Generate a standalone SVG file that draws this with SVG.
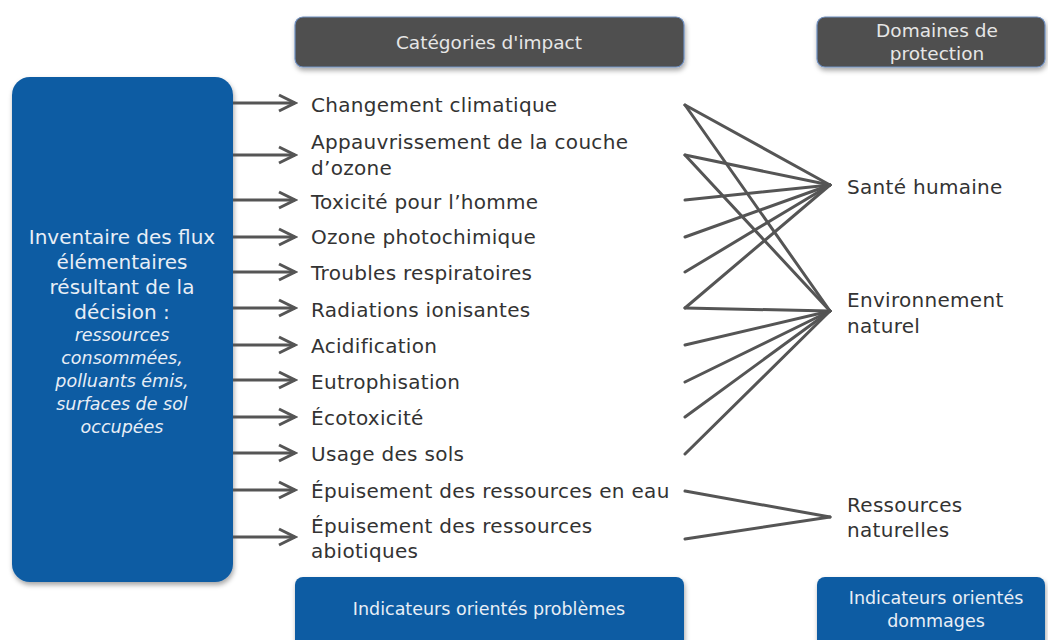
<svg xmlns="http://www.w3.org/2000/svg" width="1048" height="640" viewBox="0 0 1048 640">
<style>
.hdr{fill:#4f4f4f;stroke:#6f8fc0;stroke-width:1.2}
.blue{fill:#0d5ba3}
.ht{font-family:"DejaVu Sans",sans-serif;font-size:18.5px;fill:#e6e6e6;text-anchor:middle}
.bt{font-family:"DejaVu Sans",sans-serif;font-size:17.5px;fill:#e8eef6;text-anchor:middle}
.lt{font-family:"DejaVu Sans",sans-serif;font-size:20px;fill:#e8eef6;text-anchor:middle}
.li{font-family:"DejaVu Sans",sans-serif;font-size:17.5px;font-style:italic;fill:#e8eef6;text-anchor:middle}
.ct{font-family:"DejaVu Sans",sans-serif;font-size:20px;letter-spacing:0.3px;fill:#333}
.arr{stroke:#555;stroke-width:3;fill:none}
.ln{stroke:#555;stroke-width:3;fill:none;stroke-linecap:round}
</style>
<defs>
<filter id="sh" x="-10%" y="-10%" width="120%" height="130%">
<feDropShadow dx="1" dy="3" stdDeviation="2.5" flood-color="#000" flood-opacity="0.35"/>
</filter>
<marker id="ah" viewBox="0 0 20 20" refX="17" refY="10" markerWidth="20" markerHeight="20" markerUnits="userSpaceOnUse" orient="auto">
<path d="M1,2 L17,10 L1,18" fill="none" stroke="#555" stroke-width="3"/>
</marker>
</defs>
<rect width="1048" height="640" fill="#fff"/>

<g id="hdr-categories">
<rect class="hdr" x="295" y="17" width="389" height="50" rx="8" filter="url(#sh)"/>
<text class="ht" x="489" y="49">Catégories d'impact</text>
</g>
<g id="hdr-domaines">
<rect class="hdr" x="817" y="17" width="228" height="50" rx="8" filter="url(#sh)"/>
<text class="ht" x="937" y="37">Domaines de</text>
<text class="ht" x="937" y="60">protection</text>
</g>

<g id="inventaire">
<rect class="blue" x="12" y="77" width="221" height="505" rx="18" filter="url(#sh)"/>
<text class="lt" x="122" y="244">Inventaire des flux</text>
<text class="lt" x="122" y="269">élémentaires</text>
<text class="lt" x="122" y="294">résultant de la</text>
<text class="lt" x="122" y="319">décision :</text>
<text class="li" x="122" y="341">ressources</text>
<text class="li" x="122" y="364">consommées,</text>
<text class="li" x="122" y="387">polluants émis,</text>
<text class="li" x="122" y="410">surfaces de sol</text>
<text class="li" x="122" y="433">occupées</text>
</g>

<g id="categories">
<text class="ct" x="311" y="112">Changement climatique</text>
<text class="ct" x="311" y="149">Appauvrissement de la couche</text>
<text class="ct" x="311" y="175">d’ozone</text>
<text class="ct" x="311" y="209">Toxicité pour l’homme</text>
<text class="ct" x="311" y="244">Ozone photochimique</text>
<text class="ct" x="311" y="280">Troubles respiratoires</text>
<text class="ct" x="311" y="317">Radiations ionisantes</text>
<text class="ct" x="311" y="353">Acidification</text>
<text class="ct" x="311" y="389">Eutrophisation</text>
<text class="ct" x="311" y="425">Écotoxicité</text>
<text class="ct" x="311" y="461">Usage des sols</text>
<text class="ct" x="311" y="498">Épuisement des ressources en eau</text>
<text class="ct" x="311" y="533">Épuisement des ressources</text>
<text class="ct" x="311" y="558">abiotiques</text>
</g>

<g id="domaines">
<text class="ct" x="847" y="194">Santé humaine</text>
<text class="ct" x="847" y="307">Environnement</text>
<text class="ct" x="847" y="333">naturel</text>
<text class="ct" x="847" y="512">Ressources</text>
<text class="ct" x="847" y="537">naturelles</text>
</g>

<g id="connectors">
<g class="arr" marker-end="url(#ah)">
<line x1="233" y1="103" x2="295" y2="103"/>
<line x1="233" y1="155" x2="295" y2="155"/>
<line x1="233" y1="200" x2="295" y2="200"/>
<line x1="233" y1="237" x2="295" y2="237"/>
<line x1="233" y1="272" x2="295" y2="272"/>
<line x1="233" y1="308" x2="295" y2="308"/>
<line x1="233" y1="345" x2="295" y2="345"/>
<line x1="233" y1="380" x2="295" y2="380"/>
<line x1="233" y1="417" x2="295" y2="417"/>
<line x1="233" y1="453" x2="295" y2="453"/>
<line x1="233" y1="490" x2="295" y2="490"/>
<line x1="233" y1="537" x2="295" y2="537"/>
</g>
<g class="ln">
<line x1="685" y1="105" x2="830" y2="185"/>
<line x1="685" y1="105" x2="830" y2="311"/>
<line x1="685" y1="155" x2="830" y2="185"/>
<line x1="685" y1="155" x2="830" y2="311"/>
<line x1="685" y1="200" x2="830" y2="185"/>
<line x1="685" y1="237" x2="830" y2="185"/>
<line x1="685" y1="272" x2="830" y2="185"/>
<line x1="685" y1="308" x2="830" y2="185"/>
<line x1="685" y1="308" x2="830" y2="311"/>
<line x1="685" y1="345" x2="830" y2="311"/>
<line x1="685" y1="382" x2="830" y2="311"/>
<line x1="685" y1="417" x2="830" y2="311"/>
<line x1="685" y1="454" x2="830" y2="311"/>
<line x1="685" y1="491" x2="830" y2="517"/>
<line x1="685" y1="539" x2="830" y2="517"/>
</g>
</g>

<g id="ftr-problemes">
<rect class="blue" x="295" y="577" width="389" height="75" rx="8" filter="url(#sh)"/>
<text class="bt" x="489" y="615">Indicateurs orientés problèmes</text>
</g>
<g id="ftr-dommages">
<rect class="blue" x="817" y="577" width="228" height="75" rx="8" filter="url(#sh)"/>
<text class="bt" x="936" y="604">Indicateurs orientés</text>
<text class="bt" x="936" y="627">dommages</text>
</g>
</svg>
